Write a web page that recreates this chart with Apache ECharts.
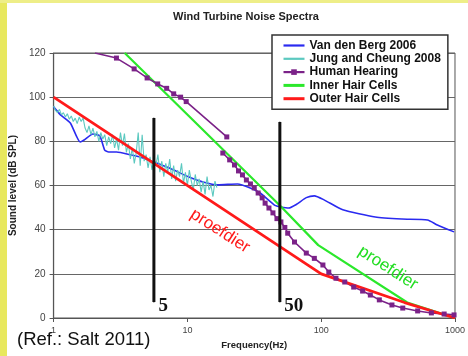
<!DOCTYPE html>
<html>
<head>
<meta charset="utf-8">
<script src="https://cdn.jsdelivr.net/npm/echarts@6/dist/echarts.min.js"></script>
<style>
  html, body { margin: 0; padding: 0; background: #fff; }
  #chart { width: 468px; height: 356px; }
</style>
</head>
<body>
<div id="chart"></div>
<script>
// Van den Berg 2006
const bergFreq = [1.0, 1.126, 1.334, 1.58, 1.69, 1.968, 2.216, 2.41, 2.58, 2.956, 3.81, 4.36, 5.62, 7.25, 10.17, 13.1, 16.9, 23.7, 29.5, 35, 45.1, 50, 57.2, 65.5, 77.4, 88.9, 105, 145, 254, 401, 623, 738, 984];
const bergLevel = [95.6, 92, 88.3, 79.7, 80.6, 83.3, 82.4, 76, 75.2, 75.2, 73.8, 73, 70.6, 68, 64, 61.6, 60.3, 60.7, 58.9, 56.6, 51, 50.3, 49.8, 51.5, 54.5, 55.3, 53.5, 49, 45.7, 44.8, 44.4, 42.1, 39];

// Jung and Cheung 2008 (noisy spectrum)
const jungFreq = [1.000, 1.034, 1.070, 1.107, 1.145, 1.184, 1.225, 1.267, 1.311, 1.356, 1.403, 1.451, 1.501, 1.553, 1.607, 1.662, 1.719, 1.778, 1.839, 1.903, 1.968, 2.036, 2.106, 2.179, 2.254, 2.332, 2.412, 2.495, 2.581, 2.670, 2.762, 2.857, 2.956, 3.058, 3.162, 3.272, 3.384, 3.501, 3.622, 3.747, 3.876, 4.010, 4.148, 4.291, 4.439, 4.592, 4.750, 4.914, 5.083, 5.259, 5.440, 5.623, 5.818, 6.019, 6.226, 6.441, 6.663, 6.893, 7.131, 7.377, 7.631, 7.894, 8.166, 8.448, 8.739, 9.041, 9.346, 9.667, 10.0, 10.34, 10.70, 11.07, 11.45, 11.84, 12.25, 12.67, 13.11, 13.56, 14.03, 14.51, 15.01, 15.53, 16.07, 16.62];
const jungLevel = [96, 94, 93, 94.5, 92, 93, 91, 92.5, 90, 91.5, 89, 90.5, 88, 91, 89, 90.5, 86, 84, 87, 83, 86, 82, 84.5, 80, 84, 81, 83, 78, 82, 79, 83, 77, 81, 76, 84, 78, 83.5, 75, 79, 72, 77, 70, 75, 84, 69, 83, 71, 74, 68, 73, 67, 72, 69, 74, 66, 71, 64, 70, 66, 72, 63, 69, 62, 67, 64, 70, 61, 66, 60, 67, 62, 58, 65, 60, 63, 57, 62, 56, 64, 58, 60, 55, 62, 59];

// Human Hearing (two pieces: infrasound part and audible part)
const hearFreqA = [2.04, 2.95, 4.0, 5.0, 6.0, 7.0, 7.9, 8.9, 9.8, 19.7];
const hearLevelA = [120, 117.7, 112.8, 108.7, 106, 104, 101.5, 100, 98, 82];
const hearFreqB = [18.4, 20.7, 22.5, 24.1, 25.8, 27.6, 29.6, 31.6, 33.8, 36.2, 38.1, 40.7, 43.6, 46.7, 50, 53.5, 56.2, 63.2, 77.4, 88.9, 103, 114, 129, 150, 175, 204, 233, 272, 338, 407, 526, 666, 830, 984];
const hearLevelB = [74.7, 71.6, 69.3, 66.6, 64.8, 62.5, 60.7, 58.9, 56.6, 54.4, 52, 49.8, 47.6, 45, 43.5, 41, 38.4, 34.4, 29.4, 27, 24, 20.8, 18, 16.3, 14, 12.2, 10.4, 8.2, 5.9, 4.5, 3.2, 2.3, 1.8, 1.4];

// Inner / Outer Hair Cells
const innerFreq = [3.4, 50, 95, 440, 1000];
const innerLevel = [120, 50.5, 33, 7, 0];
const outerFreq = [1, 100, 420, 1000];
const outerLevel = [100, 20, 7, 0];

// vertical markers
const markFreq = [5.62, 49.1];
const markTop = [90.6, 88.8];
const markBottom = [7.2, 7.2];
const markText = ['5', '50'];

const pairs = (xs, ys) => xs.map((x, i) => [x, ys[i]]);

const hearA = pairs(hearFreqA, hearLevelA);
hearA[0] = { value: hearA[0], symbol: 'none' };
const hearData = hearA.concat([[19.0, null]], pairs(hearFreqB, hearLevelB));

const markSeries = markFreq.map((f, i) => ({
  name: 'mark' + i,
  type: 'line',
  data: [
    [f, markTop[i]],
    {
      value: [f, markBottom[i]],
      label: {
        show: true,
        formatter: markText[i],
        position: 'right',
        distance: 4,
        offset: [0, 4],
        fontFamily: 'Liberation Serif',
        fontWeight: 'bold',
        fontSize: 19,
        color: '#111'
      }
    }
  ],
  symbol: 'circle',
  symbolSize: 1,
  itemStyle: { color: '#111' },
  lineStyle: { color: '#111', width: 3 },
  z: 5,
  silent: true
}));

const hidden = { opacity: 0 };

const chart = echarts.init(document.getElementById('chart'));
chart.setOption({
  backgroundColor: '#fff',
  animation: false,
  textStyle: { fontFamily: 'Liberation Sans' },
  title: {
    text: 'Wind Turbine Noise Spectra',
    left: 241,
    top: 6,
    textAlign: 'center',
    textStyle: { fontSize: 11, fontWeight: 'bold', color: '#222' }
  },
  grid: {
    left: 53, right: 8, top: 53, bottom: 38,
    show: true, borderColor: '#555', borderWidth: 1, backgroundColor: '#fff'
  },
  legend: {
    data: [
      { name: 'Van den Berg 2006', itemStyle: hidden, lineStyle: { width: 2.2 } },
      { name: 'Jung and Cheung 2008', itemStyle: hidden, lineStyle: { width: 2.2 } },
      { name: 'Human Hearing', lineStyle: { width: 2.2 } },
      { name: 'Inner Hair Cells', itemStyle: hidden, lineStyle: { width: 3 } },
      { name: 'Outer Hair Cells', itemStyle: hidden, lineStyle: { width: 3 } }
    ],
    orient: 'vertical',
    left: 272,
    top: 35,
    padding: [4, 7, 4, 10],
    itemWidth: 21,
    itemHeight: 7,
    itemGap: 0.3,
    backgroundColor: '#fff',
    borderColor: '#333',
    borderWidth: 1.5,
    textStyle: { fontSize: 12, fontWeight: 'bold', color: '#111', lineHeight: 13 },
    z: 10
  },
  xAxis: {
    type: 'log',
    logBase: 10,
    min: 1,
    max: 1000,
    name: 'Frequency(Hz)',
    nameLocation: 'middle',
    nameGap: 22,
    nameTextStyle: { fontSize: 9.5, fontWeight: 'bold', color: '#222' },
    axisLine: { lineStyle: { color: '#555', width: 1.2 } },
    axisTick: { show: true, length: 4, lineStyle: { color: '#555' } },
    axisLabel: { fontSize: 9, color: '#444', margin: 8, formatter: v => String(Math.round(v)) },
    splitLine: { show: false },
    minorTick: { show: false }
  },
  yAxis: {
    type: 'value',
    min: 0,
    max: 120,
    interval: 20,
    name: 'Sound level (dB SPL)',
    nameLocation: 'middle',
    nameGap: 26,
    nameTextStyle: { fontSize: 10, fontWeight: 'bold', color: '#222' },
    axisLine: { show: true, lineStyle: { color: '#555', width: 1.2 } },
    axisTick: { show: true, length: 4, lineStyle: { color: '#555' } },
    axisLabel: { fontSize: 10, color: '#444', margin: 8 },
    splitLine: { lineStyle: { color: '#666', width: 1.2 } }
  },
  series: [
    {
      name: 'Van den Berg 2006',
      type: 'line',
      data: pairs(bergFreq, bergLevel),
      symbol: 'none',
      smooth: 0.2,
      lineStyle: { color: '#2a2af0', width: 1.6 },
      itemStyle: { color: '#2a2af0' },
      z: 2
    },
    {
      name: 'Jung and Cheung 2008',
      type: 'line',
      data: pairs(jungFreq, jungLevel),
      symbol: 'none',
      lineStyle: { color: '#5cc9c0', width: 1.1 },
      itemStyle: { color: '#5cc9c0' },
      z: 3
    },
    {
      name: 'Human Hearing',
      type: 'line',
      data: hearData,
      connectNulls: false,
      symbol: 'rect',
      symbolSize: 5,
      lineStyle: { color: '#7b2288', width: 1.6 },
      itemStyle: { color: '#7b2288' },
      z: 4
    },
    {
      name: 'Inner Hair Cells',
      type: 'line',
      data: pairs(innerFreq, innerLevel),
      symbol: 'none',
      lineStyle: { color: '#2be82b', width: 2.2 },
      itemStyle: { color: '#2be82b' },
      z: 3
    },
    {
      name: 'Outer Hair Cells',
      type: 'line',
      data: pairs(outerFreq, outerLevel),
      symbol: 'none',
      lineStyle: { color: '#ff1a1a', width: 2.8 },
      itemStyle: { color: '#ff1a1a' },
      z: 4
    }
  ].concat(markSeries),
  graphic: [
    { type: 'rect', left: 0, top: 0, shape: { width: 7, height: 356 }, style: { fill: '#e8e85e' }, z: 100 },
    { type: 'rect', left: 0, top: 0, shape: { width: 468, height: 3 }, style: { fill: '#eeee88' }, z: 100 },
    {
      type: 'text', x: 220, y: 231, rotation: -0.57, z: 20,
      style: { text: 'proefdier', fill: '#ff1a1a', fontSize: 17, fontFamily: 'Liberation Sans', align: 'center', verticalAlign: 'middle' }
    },
    {
      type: 'text', x: 388, y: 268, rotation: -0.57, z: 20,
      style: { text: 'proefdier', fill: '#22dd22', fontSize: 17, fontFamily: 'Liberation Sans', align: 'center', verticalAlign: 'middle' }
    },
    {
      type: 'text', left: 17, top: 330, z: 20,
      style: { text: '(Ref.: Salt 2011)', fill: '#111', fontSize: 18.5, fontFamily: 'Liberation Sans' }
    }
  ]
});
</script>
</body>
</html>
